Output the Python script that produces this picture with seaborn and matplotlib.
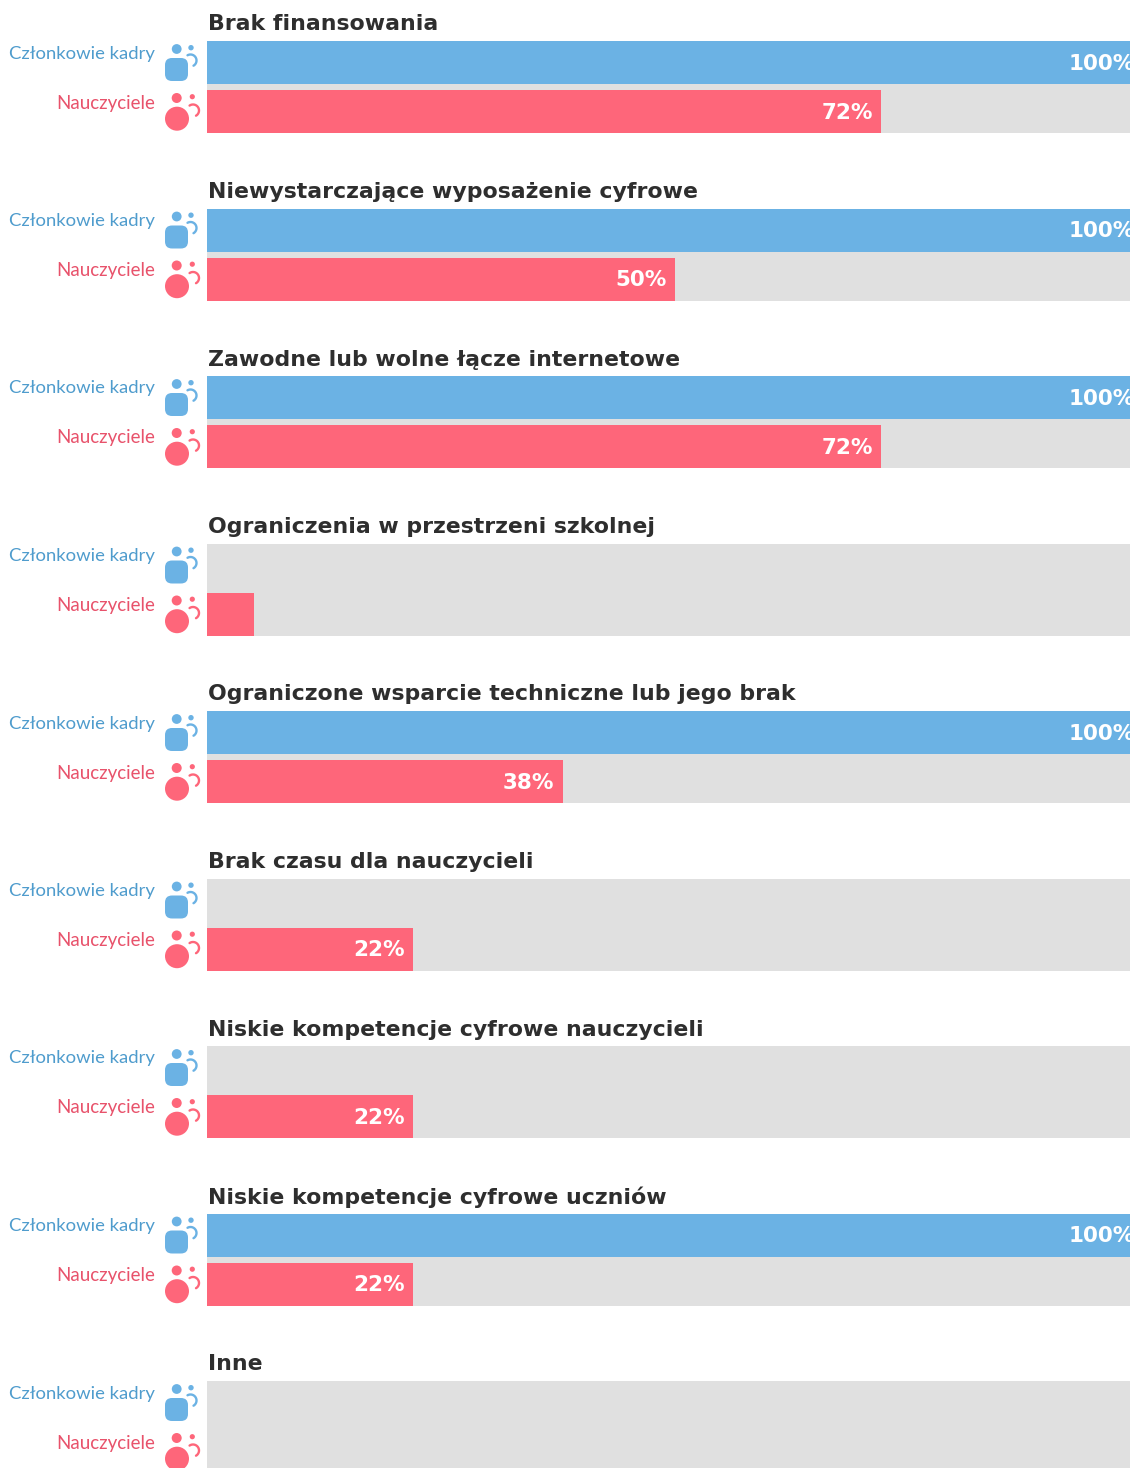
import numpy as np
import pandas as pd
import matplotlib
matplotlib.use("Agg")
import matplotlib.pyplot as plt
from matplotlib.patches import Circle, FancyBboxPatch
import seaborn as sns

# Data
categories = [
    "Brak finansowania",
    "Niewystarczające wyposażenie cyfrowe",
    "Zawodne lub wolne łącze internetowe",
    "Ograniczenia w przestrzeni szkolnej",
    "Ograniczone wsparcie techniczne lub jego brak",
    "Brak czasu dla nauczycieli",
    "Niskie kompetencje cyfrowe nauczycieli",
    "Niskie kompetencje cyfrowe uczniów",
    "Inne",
]
staff = [100, 100, 100, 0, 100, 0, 0, 100, 0]
teachers = [72, 50, 72, 5, 38, 22, 22, 22, 0]
full = [100] * len(categories)
groups = ["Członkowie kadry", "Nauczyciele"]

BLUE = "#6BB2E4"
RED = "#FE667A"
BLUE_TXT = "#4F9CCD"
RED_TXT = "#E8526B"
GREY = "#E0E0E0"
DARK = "#2E2E2E"

W, H = 1130, 1468
PERIOD = 167.5
FIRST = 87.15  # pixel centre of first category

sns.set_theme(style="white")

df = pd.DataFrame({
    "category": categories * 2,
    "group": [groups[0]] * len(categories) + [groups[1]] * len(categories),
    "value": staff + teachers,
})
bg = pd.DataFrame({"category": categories, "value": full})

fig = plt.figure(figsize=(W / 100, H / 100), dpi=100)
ax = fig.add_axes([207 / W, 0, 1 - 207 / W, 1])

sns.barplot(data=bg, y="category", x="value", color=GREY, width=0.549,
            saturation=1, errorbar=None, ax=ax)
sns.barplot(data=df, y="category", x="value", hue="group", hue_order=groups,
            palette=[BLUE, RED], width=0.585, gap=0.122, saturation=1,
            errorbar=None, legend=False, ax=ax)
for p in ax.patches:
    p.set_linewidth(0)

# 923 px shows 98.6 units, the 100% bars run off the right edge
ax.set_xlim(0, 98.6)
ax.set_ylim((H - FIRST) / PERIOD, -FIRST / PERIOD)
ax.axis("off")

# overlay in pixels for the icons and text
over = fig.add_axes([0, 0, 1, 1])
over.set_xlim(0, W)
over.set_ylim(H, 0)
over.axis("off")
over.patch.set_alpha(0)


def hook(cx, cy, r, start, end, color):
    t = np.radians(np.linspace(start, end, 30))
    over.plot(cx + r * np.cos(t), cy + r * np.sin(t), color=color, lw=1.7,
              solid_capstyle="round", clip_on=False)


def staff_icon(dy):
    over.add_patch(Circle((176.7, 49 + dy), 4.9, fc=BLUE, ec="none"))
    over.add_patch(Circle((191, 47.7 + dy), 2.7, fc=BLUE, ec="none"))
    over.add_patch(FancyBboxPatch((172, 65 + dy), 9, 9,
                                  boxstyle="round,pad=7,rounding_size=7",
                                  fc=BLUE, ec="none"))
    hook(190.5, 60.5 + dy, 6, -120, 60, BLUE)


def teacher_icon(dy):
    over.add_patch(Circle((176.7, 98 + dy), 5, fc=RED, ec="none"))
    over.add_patch(Circle((192.3, 96.7 + dy), 2.6, fc=RED, ec="none"))
    over.add_patch(Circle((177, 118.7 + dy), 12, fc=RED, ec="none"))
    hook(193, 110.5 + dy, 6, -125, 60, RED)


for i, name in enumerate(categories):
    dy = i * PERIOD
    over.text(207.5, 24.5 + dy, name, fontsize=15.8, fontweight="bold", color=DARK,
              family="DejaVu Sans", ha="left", va="center")
    over.text(155, 53.5 + dy, groups[0], fontsize=13.3, color=BLUE_TXT,
              family="Lato", ha="right", va="center")
    over.text(155, 103 + dy, groups[1], fontsize=13.5, color=RED_TXT,
              family="Lato", ha="right", va="center")
    staff_icon(dy)
    teacher_icon(dy)

    # small bars carry no label in the original
    for v, off in ((staff[i], -24.5), (teachers[i], 24.5)):
        if v >= 10:
            ax.text(v - 0.9, i + (off + 1) / PERIOD, f"{v}%", fontsize=15.5,
                    fontweight="bold", color="white", family="DejaVu Sans",
                    ha="right", va="center", clip_on=True)

fig.savefig("out.png", dpi=100)
